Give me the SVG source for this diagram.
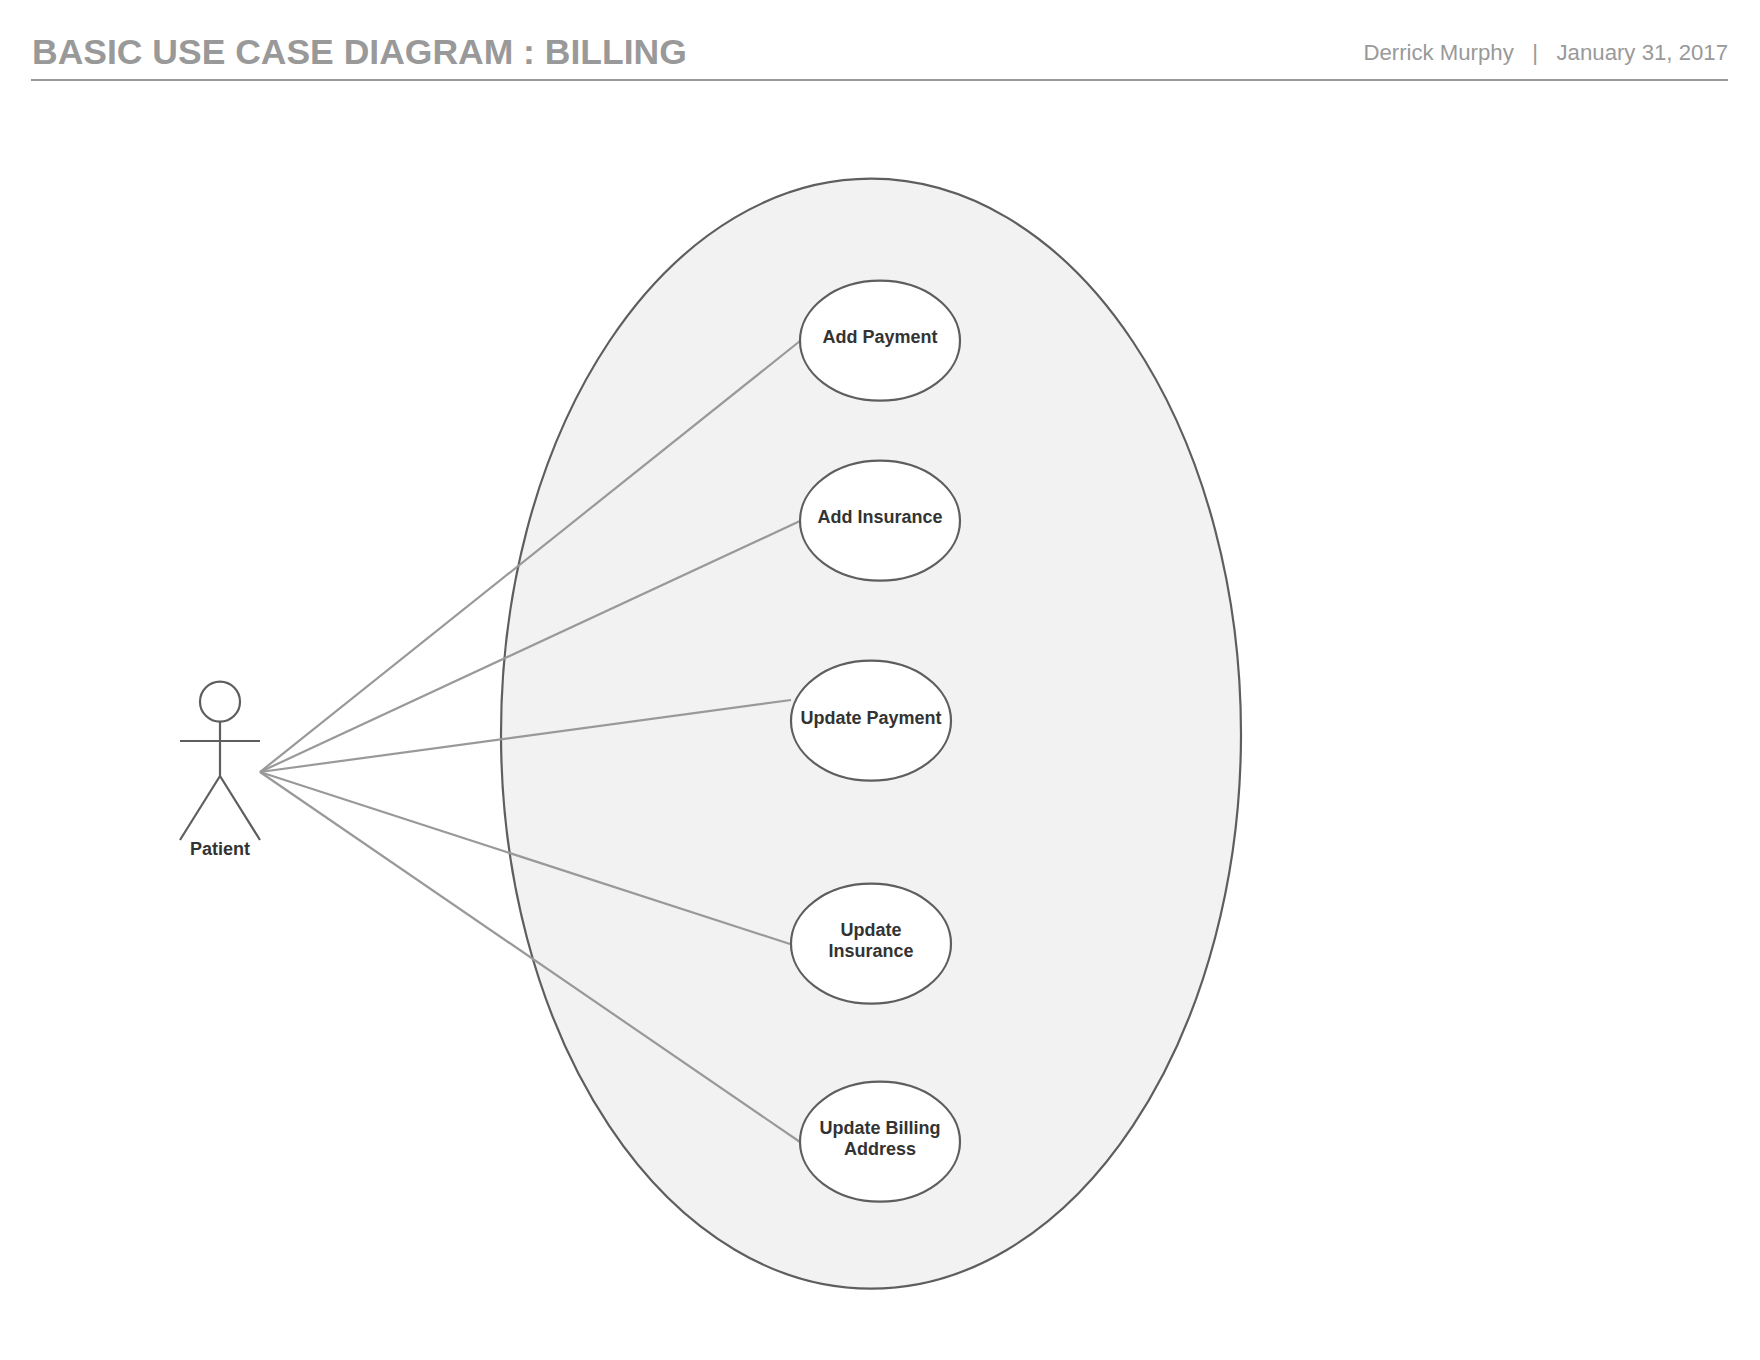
<svg xmlns="http://www.w3.org/2000/svg" width="1760" height="1360" viewBox="0 0 1760 1360">
<style>
text{font-family:"Liberation Sans",Arial,sans-serif}
.n{fill:#fff;stroke:#5e5e5e;stroke-width:2.2}
.l{font-size:18px;font-weight:700;fill:#333;text-anchor:middle}
.c{stroke:#999;stroke-width:2.2;fill:none}
.a{stroke:#5e5e5e;stroke-width:2.2;fill:none}
</style>
<rect width="1760" height="1360" fill="#fff"/>
<g id="header">
<text x="32" y="64" font-size="35.5" font-weight="700" fill="#999">BASIC USE CASE DIAGRAM : BILLING</text>
<text x="1728" y="60" font-size="22.2" fill="#999" text-anchor="end" xml:space="preserve">Derrick Murphy   |   January 31, 2017</text>
<line x1="31" y1="80" x2="1728" y2="80" stroke="#999" stroke-width="2"/>
</g>
<g id="boundary"><ellipse cx="871" cy="733.7" rx="370" ry="555" fill="#f2f2f2" stroke="#5e5e5e" stroke-width="2.2"/></g>
<g id="connectors" class="c">
<line x1="260" y1="772" x2="800" y2="341"/>
<line x1="260" y1="772" x2="800" y2="521"/>
<line x1="260" y1="772" x2="791" y2="700"/>
<line x1="260" y1="772" x2="790" y2="944"/>
<line x1="260" y1="772" x2="800" y2="1142"/>
</g>
<g id="actor-patient" class="a">
<circle cx="220" cy="701.7" r="20"/>
<path d="M220 722V776M180 741H260M180 840L220 776L260 840"/>
<text class="l" x="220" y="854.6" stroke="none">Patient</text>
</g>
<g id="add-payment"><ellipse class="n" cx="880" cy="340.7" rx="80" ry="60"/><text class="l" x="880" y="343">Add Payment</text></g>
<g id="add-insurance"><ellipse class="n" cx="880" cy="520.7" rx="80" ry="60"/><text class="l" x="880" y="523">Add Insurance</text></g>
<g id="update-payment"><ellipse class="n" cx="871" cy="720.7" rx="80" ry="60"/><text class="l" x="871" y="723.6">Update Payment</text></g>
<g id="update-insurance"><ellipse class="n" cx="871" cy="943.7" rx="80" ry="60"/><text class="l" x="871" y="935.6">Update</text><text class="l" x="871" y="957">Insurance</text></g>
<g id="update-billing-address"><ellipse class="n" cx="880" cy="1141.7" rx="80" ry="60"/><text class="l" x="880" y="1133.6">Update Billing</text><text class="l" x="880" y="1155">Address</text></g>
</svg>
